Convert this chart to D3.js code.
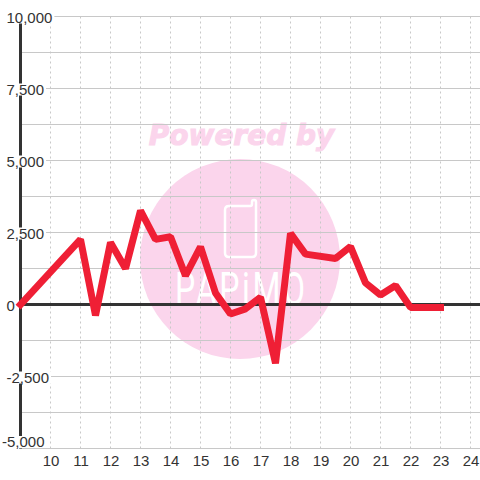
<!DOCTYPE html>
<html>
<head>
<meta charset="utf-8">
<script src="https://cdn.jsdelivr.net/npm/d3@7"></script>
<style>
  html, body { margin: 0; padding: 0; background: #fff; }
  svg { display: block; }
  text { font-family: "Liberation Sans", sans-serif; }
</style>
</head>
<body>
<script>
// chart data
var hours = [9, 11, 11.5, 12, 12.5, 13, 13.5, 14, 14.5, 15, 15.5, 16, 16.5, 17, 17.5, 18, 18.5, 19.5, 20, 20.5, 21, 21.5, 22, 23];
var values = [0, 2260, -380, 2150, 1250, 3260, 2260, 2350, 1000, 2000, 400, -330, -150, 250, -2040, 2470, 1750, 1600, 2010, 750, 330, 660, -100, -100];
var xTicks = [10, 11, 12, 13, 14, 15, 16, 17, 18, 19, 20, 21, 22, 23, 24];
var yGrid = [-5000, -3750, -2500, -1250, 0, 1250, 2500, 3750, 5000, 6250, 7500, 8750, 10000];
var yLabels = [10000, 7500, 5000, 2500, 0, -2500, -5000];

var width = 480, height = 480;

var x = d3.scaleLinear().domain([9, 24]).range([20.5, 470.5]);
var y = d3.scaleLinear().domain([-5000, 10000]).range([448.5, 16.5]);

var svg = d3.select('body').append('svg')
  .attr('width', width)
  .attr('height', height);

// watermark sits under the grid
var mark = svg.append('g');
mark.append('circle')
  .attr('cx', 240)
  .attr('cy', 259)
  .attr('r', 100)
  .attr('fill', '#fbd5ec');
mark.append('text')
  .attr('x', 241.5)
  .attr('y', 145)
  .attr('text-anchor', 'middle')
  .style('font-family', '"DejaVu Sans"')
  .style('font-weight', 'bold')
  .style('font-style', 'italic')
  .style('font-size', '28px')
  .attr('fill', '#fbd5ec')
  .attr('stroke', '#fbd5ec')
  .attr('stroke-width', 1)
  .text('Powered by');
mark.append('path')
  .attr('d', 'M229 206 Q225 206 225 210 L225 253 Q225 257 229 257 L252 257 Q256 257 256 253 L256 202 Q256 200 254 200 Q252 200 252 202 L252 204 Q252 206 250 206 Z')
  .attr('fill', 'none')
  .attr('stroke', '#fff')
  .attr('stroke-width', 2.5);
// logo word is tall and narrow, so squeeze a smaller font
mark.append('text')
  .attr('transform', 'translate(240,305) scale(1,1.44)')
  .attr('text-anchor', 'middle')
  .attr('textLength', 130)
  .attr('lengthAdjust', 'spacing')
  .style('font-size', '32px')
  .style('font-family', 'Roboto')
  .attr('fill', '#fff')
  .text('PAPiMO');

// grid
svg.append('g').selectAll('line')
  .data(yGrid)
  .enter()
  .append('line')
  .attr('x1', 20)
  .attr('x2', width)
  .attr('y1', function(d) { return y(d); })
  .attr('y2', function(d) { return y(d); })
  .attr('stroke', '#c8c8c8');

svg.append('g').selectAll('line')
  .data(xTicks)
  .enter()
  .append('line')
  .attr('x1', function(d) { return x(d); })
  .attr('x2', function(d) { return x(d); })
  .attr('y1', y(10000))
  .attr('y2', y(-5000))
  .attr('stroke', '#c8c8c8')
  .attr('stroke-dasharray', '2 3');

// axes lines
svg.append('line')
  .attr('x1', x(9))
  .attr('x2', x(9))
  .attr('y1', y(10000))
  .attr('y2', y(-5000))
  .attr('stroke', '#333')
  .attr('stroke-width', 3);
svg.append('line')
  .attr('x1', x(9))
  .attr('x2', width)
  .attr('y1', y(0))
  .attr('y2', y(0))
  .attr('stroke', '#333')
  .attr('stroke-width', 3);

// y labels have a white box that cuts the axis and the grid
var fmt = d3.format(',');
var labels = svg.append('g').selectAll('g')
  .data(yLabels)
  .enter()
  .append('g');
var labelText = labels.append('text')
  .attr('x', function(d) { return d === -5000 ? 2 : 6.5; })
  .attr('y', function(d) { return d === -5000 ? y(d) - 1.5 : y(d) + 6; })
  .attr('fill', '#333')
  .style('font-size', '15px')
  .text(function(d) { return fmt(d).replace('\u2212', '-'); });
labelText.each(function() {
  var box = this.getBBox();
  d3.select(this.parentNode).insert('rect', 'text')
    .attr('x', box.x - 1)
    .attr('y', +d3.select(this).attr('y') - 11)
    .attr('width', box.width + 3)
    .attr('height', 12)
    .attr('fill', '#fff');
});

// x labels
svg.append('g').selectAll('text')
  .data(xTicks)
  .enter()
  .append('text')
  .attr('x', function(d) { return x(d) + 0.5; })
  .attr('y', 466)
  .attr('text-anchor', 'middle')
  .attr('fill', '#333')
  .style('font-size', '15px')
  .text(function(d) { return d; });

// main line
var line = d3.line()
  .x(function(d, i) { return x(hours[i]); })
  .y(function(d) { return y(d); });

svg.append('path')
  .attr('d', line(values))
  .attr('fill', 'none')
  .attr('stroke', '#ef1f35')
  .attr('stroke-width', 7)
  .attr('stroke-linecap', 'square')
  .attr('stroke-linejoin', 'bevel');
</script>
</body>
</html>
